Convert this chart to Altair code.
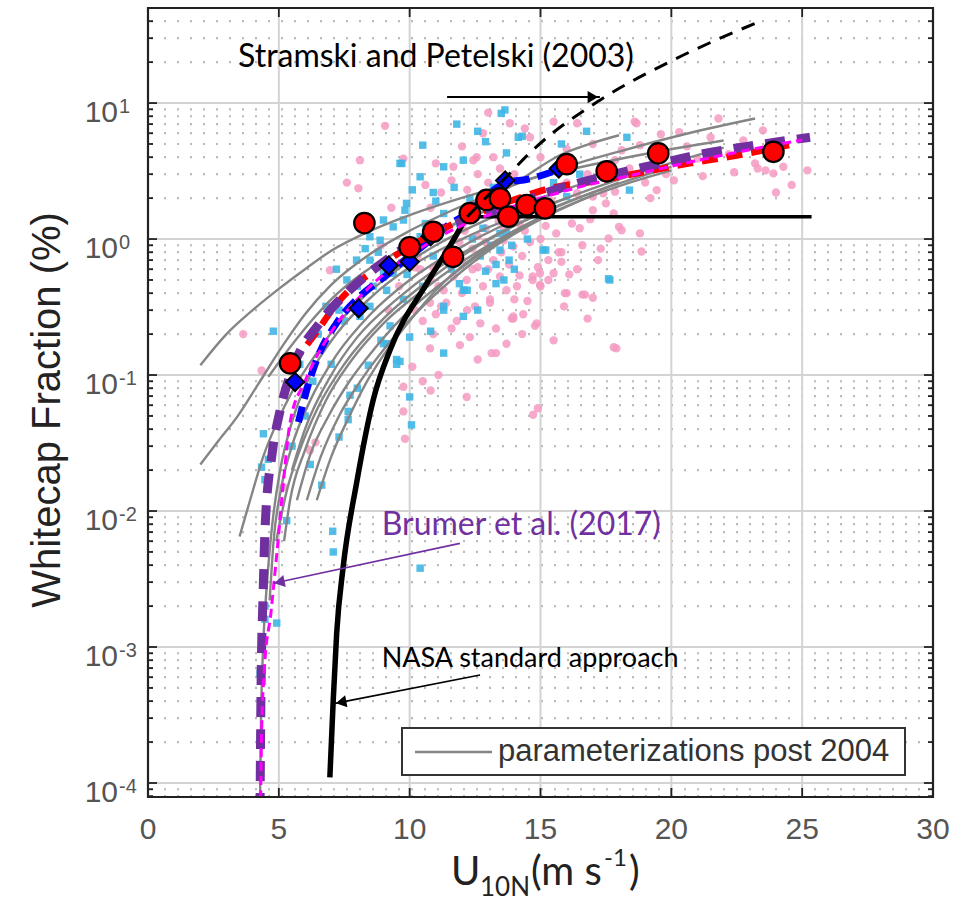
import altair as alt
import pandas as pd

PW, PH = 785, 789  # plot area in pixels

U_DOMAIN = [0, 30]
W_DOMAIN = [7.89e-5, 50.0]

# ---- observations -------------------------------------------------------
red_u = [5.43, 8.27, 10.0, 10.9, 11.65, 12.3, 12.94, 13.45, 13.77, 14.47, 15.17, 16.0, 17.53, 19.5, 23.9]
red_w = [0.122, 1.31, 0.87, 1.13, 0.74, 1.55, 1.94, 1.99, 1.46, 1.78, 1.68, 3.55, 3.15, 4.27, 4.38]

blue_u = [5.62, 8.05, 9.2, 10.0, 10.8, 13.65, 15.7]
blue_w = [0.089, 0.31, 0.64, 0.68, 1.05, 2.7, 3.3]

pink_u = [3.64, 4.34, 5.17, 6.19, 6.4, 6.95, 7.6, 8.04, 8.1, 9.06, 9.76, 9.82, 9.76, 9.76, 10.1,
          10.8, 10.5, 10.78, 10.9, 11.92, 13.13, 12.18, 14.72, 14.9, 17.9, 13.96, 14.79, 13.07, 12.5,
          16.0, 16.6, 17.0, 14.98, 11.4, 11.1, 13.3, 14.34, 14.98, 13.83, 12.8, 12.0, 12.56, 14.6,
          18.67, 21.8, 23.5, 22.75, 19.44, 17.85, 17.4, 17.0, 18.1, 17.6, 18.86, 15.93, 16.7, 13.9,
          15.5, 14.7, 24.6, 25.2, 23.9, 24.28, 23.3, 15.5, 16.4, 18.6, 18.8, 17.85, 18.1, 23.6,
          13.2, 13.6, 13.96, 13.45, 14.2, 14.7, 15.0, 13.07, 13.7, 11.67, 12.18, 11.3, 10.78, 11.2,
          12.7, 12.3, 13.96, 13.45, 13.2, 12.43, 12.6, 11.67, 11.0, 16.4, 17.0, 17.5, 17.8, 18.0,
          18.8, 15.9, 17.8, 14.85, 10.4, 10.8, 11.5, 12.0, 12.4, 14.3, 14.6, 15.3, 15.6, 16.2,
          16.6, 10.6, 11.2, 12.9, 13.4, 15.2, 14.4, 12.2, 13.3, 15.5, 16.4, 17.2, 19.2, 20.1,
          19.8, 21.2, 20.3, 21.0, 22.2, 23.2, 9.3, 10.2, 11.8, 12.6, 14.0, 15.8,
          10.2, 10.5, 11.0, 11.6, 12.0, 12.4, 12.8, 13.0, 13.5, 13.8, 14.1, 14.5, 14.9, 15.3,
          15.7, 16.1, 16.5, 16.9, 17.3, 15.0, 14.2, 13.6, 12.6, 11.9, 11.4, 10.9, 10.3, 9.6,
          9.2, 8.9, 14.8, 15.4, 16.0, 16.8, 14.0, 13.0, 12.2, 11.6, 10.8, 17.6, 18.4, 19.0,
          20.6, 21.5, 22.4, 24.0, 19.6, 17.0, 16.0, 15.0, 14.4, 13.0, 12.1, 12.9, 15.8, 14.3,
          13.7, 12.6, 11.1, 16.8]
pink_w = [0.2, 0.108, 0.015, 0.028, 0.032, 0.59, 2.6, 2.36, 3.8, 6.8, 3.9, 0.034, 0.054, 0.082, 0.115,
          0.077, 0.09, 0.157, 0.2, 0.166, 0.145, 0.069, 0.051, 0.057, 0.157, 0.26, 0.23, 0.36, 0.32,
          0.4, 0.39, 0.37, 0.46, 0.34, 0.45, 0.145, 0.28, 0.56, 7.1, 6.0, 4.8, 4.0, 5.6,
          7.1, 7.7, 6.3, 5.3, 2.29, 2.23, 2.17, 1.63, 1.16, 1.01, 0.81, 0.4, 0.39, 0.26,
          0.56, 0.53, 2.5, 3.2, 3.04, 3.4, 3.3, 7.3, 7.1, 7.3, 4.9, 3.8, 4.5, 3.2,
          0.7, 0.98, 0.88, 0.53, 0.54, 0.5, 0.45, 0.34, 0.42, 0.53, 0.5, 0.42, 0.34, 0.32,
          0.24, 0.19, 0.27, 3.3, 4.0, 3.8, 3.0, 3.4, 3.6, 2.17, 2.05, 1.83, 1.54, 1.23,
          1.1, 0.32, 0.16, 0.24, 0.6, 0.5, 0.65, 0.7, 0.85, 0.75, 0.95, 0.7, 1.1, 1.3,
          0.9, 2.5, 2.2, 1.2, 1.35, 1.25, 1.15, 0.3, 0.22, 0.18, 0.6, 0.7, 2.0, 2.7,
          3.0, 2.9, 6.1, 3.9, 4.2, 3.6, 1.7, 0.62, 0.25, 0.62, 0.36, 0.8,
          0.3, 0.25, 0.28, 0.22, 0.4, 0.6, 0.45, 0.6, 0.8, 0.65, 0.45, 0.35, 0.62, 0.5,
          0.8, 0.55, 1.2, 1.4, 0.85, 1.0, 1.3, 1.2, 1.05, 0.95, 0.8, 0.62, 0.75, 0.45,
          0.3, 0.9, 2.0, 1.9, 2.6, 3.0, 3.0, 2.6, 2.3, 2.7, 1.7, 2.8, 3.3, 2.6,
          4.8, 5.6, 3.1, 2.2, 5.9, 5.0, 4.6, 4.0, 6.5, 8.5, 1.15, 0.95, 0.68, 0.2,
          0.17, 0.13, 0.1, 0.26]

cyan_u = [4.41, 4.34, 4.47, 4.6, 6.64, 7.65, 7.65, 10.07, 7.06, 7.08, 10.4, 4.47, 4.47, 4.92, 4.28,
          4.79, 7.72, 8.42, 9.0, 9.5, 7.97, 11.3, 9.63, 10.0, 12.1, 17.65, 13.64, 13.5, 14.15,
          14.3, 12.6, 13.7, 10.5, 11.3, 9.7, 12.05, 13.2, 9.88, 9.0, 9.76, 11.3, 8.48, 8.48,
          9.0, 9.12, 8.48, 8.1, 9.25, 9.12, 9.5, 10.0, 13.45, 13.7, 12.05, 11.3, 12.05, 13.3,
          16.76, 18.3, 16.0, 18.4, 15.1, 17.6, 15.1, 9.63, 10.4, 9.82, 9.37, 8.87, 10.4, 11.9,
          13.45, 11.9, 12.2, 15.2, 11.3, 10.5, 9.76, 9.37, 6.0, 5.5, 6.3, 7.0, 7.5, 8.0, 6.5,
          5.8, 13.8, 14.0, 13.6, 13.9, 10.9, 8.8, 7.3,
          12.4, 12.8, 13.1, 13.3, 12.7, 13.9, 14.2, 12.3, 11.7, 11.0, 10.6, 10.2, 9.9, 8.6,
          8.3, 7.6, 7.2, 6.8, 10.9, 11.6, 12.9, 14.5, 15.5, 16.5, 15.8, 12.9, 11.8, 10.1,
          8.9, 8.0, 7.3, 6.2, 5.3, 10.8, 12.6]
cyan_w = [0.037, 0.021, 0.017, 0.024, 0.0155, 0.054, 0.047, 0.043, 0.0071, 0.005, 0.0038, 0.002,
          0.0016, 0.0015, 0.00064, 0.21, 0.071, 0.118, 0.17, 0.13, 0.7, 0.145, 0.126, 0.19, 0.42,
          0.5, 8.9, 8.4, 5.6, 5.7, 6.2, 4.3, 4.9, 3.4, 3.6, 3.8, 2.4, 1.83, 1.38, 1.38, 1.54,
          1.04, 0.7, 0.56, 0.42, 0.32, 0.27, 0.23, 0.17, 0.12, 0.069, 0.83, 1.1, 0.42, 0.32,
          0.27, 0.47, 6.2, 5.6, 2.05, 2.29, 0.83, 0.51, 1.55, 3.6, 2.87, 1.63, 1.23, 0.98, 1.04,
          1.3, 1.1, 0.47, 0.42, 0.83, 0.3, 0.45, 0.36, 0.56, 0.05, 0.03, 0.09, 0.12, 0.25, 0.45,
          0.2, 0.12, 0.7, 0.6, 0.5, 0.9, 2.2, 0.8, 0.3,
          1.0, 1.2, 0.9, 0.65, 0.75, 1.5, 1.8, 2.0, 2.4, 1.9, 1.3, 0.85, 0.55, 0.45,
          0.85, 0.5, 0.6, 0.32, 0.75, 0.6, 0.58, 1.0, 2.6, 3.0, 5.0, 5.2, 7.0, 2.3,
          0.18, 0.08, 0.035, 0.022, 0.0085, 0.21, 0.3]

# ---- parameterizations --------------------------------------------------
grey_curves = [
    [(2.0, 0.118), (3.0, 0.2), (4.0, 0.3), (5.0, 0.43), (6.0, 0.6), (7.0, 0.82), (8.5, 1.15),
     (10, 1.5), (12.5, 2.15), (15, 2.9), (17.5, 3.7), (19.5, 4.4), (22, 5.3)],
    [(2.0, 0.022), (2.7, 0.033), (3.4, 0.049), (4.2, 0.085), (5.2, 0.17), (6.0, 0.28), (7.0, 0.46),
     (8.5, 0.78), (10, 1.15), (12, 1.75), (14, 2.5), (16, 3.4), (18, 4.4), (20.5, 5.9), (23.2, 7.7)],
    [(3.5, 0.0065), (3.9, 0.012), (4.4, 0.025), (5.0, 0.048), (5.5, 0.075), (6.5, 0.15), (7.5, 0.27),
     (9, 0.5), (11, 0.9), (13, 1.4), (15, 2.0), (17, 2.7)],
    [(4.6, 0.097), (5.2, 0.14), (6.0, 0.22), (7.0, 0.36), (8.2, 0.56), (9.5, 0.8), (11, 1.12),
     (12.5, 1.5), (14, 1.9)],
    [(4.28, 7.0e-5), (4.32, 3e-4), (4.4, 0.001), (4.55, 0.003), (4.75, 0.008), (5.05, 0.02),
     (5.5, 0.045), (6.2, 0.1), (7.2, 0.2), (8.5, 0.37), (10, 0.62), (12, 1.0), (14, 1.45), (16, 2.0)],
    [(4.65, 0.0022), (4.8, 0.006), (5.1, 0.015), (5.5, 0.03), (6.2, 0.065), (7.2, 0.14), (8.5, 0.28),
     (10, 0.5), (12, 0.88), (14, 1.38), (16, 2.0), (18.5, 2.95), (22, 4.7)],
    [(4.9, 0.006), (5.3, 0.014), (5.8, 0.028), (6.5, 0.058), (7.5, 0.12), (9, 0.26), (10.5, 0.46),
     (12, 0.75), (14, 1.25), (16, 1.85), (18, 2.6)],
    [(5.2, 0.006), (5.43, 0.012), (6.0, 0.028), (6.8, 0.065), (7.8, 0.13), (9, 0.24), (10.5, 0.42),
     (12, 0.68), (14, 1.15), (16, 1.75), (18, 2.45), (20, 3.2)],
    [(5.69, 0.012), (6.2, 0.026), (6.9, 0.05), (7.7, 0.09), (8.7, 0.16), (10, 0.3), (11.5, 0.52),
     (13, 0.85), (15, 1.4), (17, 2.1)],
    [(6.07, 0.012), (6.6, 0.025), (7.3, 0.05), (8.2, 0.095), (9.3, 0.18), (10.5, 0.32), (12, 0.58),
     (13.5, 0.95), (15, 1.4)],
    [(6.45, 0.012), (7.0, 0.025), (7.7, 0.05), (8.3, 0.085), (9.0, 0.14), (10, 0.25), (11, 0.42),
     (12.5, 0.75), (14, 1.15), (15.5, 1.6)],
    [(9.5, 0.6), (10.5, 0.85), (11.5, 1.2), (12.5, 1.65), (13.5, 2.2), (14.5, 2.95), (15.7, 4.1),
     (16.8, 4.95), (18, 5.8)],
    [(5.5, 0.02), (6.0, 0.04), (7.0, 0.1), (8.0, 0.19), (9.5, 0.36), (11, 0.6), (13, 1.0),
     (15, 1.55), (17, 2.2), (20, 3.4)],
]

nasa_u = [6.95, 7.08, 7.21, 7.46, 7.97, 8.61, 9.25, 10.65, 11.67, 12.18]
nasa_w = [1.1e-4, 4.1e-4, 0.00126, 0.0039, 0.016, 0.066, 0.153, 0.47, 0.98, 1.46]
nasa_cap_u = [12.18, 25.36]
nasa_cap_w = [1.46, 1.46]

stramski_u = [12.2, 13.7, 14.7, 17.27, 20.07, 23.51]
stramski_w = [1.46, 2.87, 4.5, 10.5, 20.7, 40.8]

blue_fit_u = [5.75, 6.0, 6.45, 7.2, 8.1, 9.0, 9.6, 10.6, 11.5, 12.2, 12.9, 13.7, 14.5, 15.8]
blue_fit_w = [0.045, 0.07, 0.13, 0.24, 0.38, 0.52, 0.65, 0.92, 1.28, 1.54, 2.05, 2.6, 2.75, 3.3]

red_fit_u = [5.5, 6.3, 7.3, 8.7, 10, 11, 12, 13, 14, 15.6, 17, 18.9, 20.7, 22.6, 24.5]
red_fit_w = [0.12, 0.19, 0.35, 0.6, 0.88, 1.12, 1.38, 1.65, 1.95, 2.42, 2.65, 3.1, 3.6, 4.15, 4.9]

brumer_u = [4.28, 4.32, 4.4, 4.48, 4.75, 5.05, 5.55, 6.55, 7.7, 9.1, 10.6, 12, 14, 15.7, 17.5,
            19.3, 21.1, 22.9, 25.3]
brumer_w = [6e-5, 5e-4, 0.0025, 0.008, 0.027, 0.055, 0.115, 0.24, 0.42, 0.7, 1.05, 1.35, 1.8,
            2.35, 2.9, 3.5, 4.2, 4.8, 5.6]

magenta_u = [4.3, 4.34, 4.45, 4.7, 4.85, 4.95, 5.17, 5.43, 6.0, 6.95, 8.23, 9.25, 10.14, 11.3, 13,
             15, 16.8, 18.5, 20.2, 22.9, 25.0]
magenta_w = [6e-5, 2.3e-4, 7e-4, 0.0018, 0.0035, 0.0055, 0.016, 0.045, 0.09, 0.2, 0.4, 0.6, 0.79,
             1.08, 1.5, 2.0, 2.5, 2.95, 3.5, 4.5, 5.35]

# ---- axis furniture -------------------------------------------------------
x_ticks = [0, 5, 10, 15, 20, 25, 30]
x_inner = [5, 10, 15, 20, 25]
decades = [-4, -3, -2, -1, 0, 1]
minor_vals = [k * 10.0 ** d for d in range(-5, 2) for k in range(2, 10)
              if W_DOMAIN[0] <= k * 10.0 ** d <= W_DOMAIN[1]]
major_vals = [10.0 ** d for d in decades]

xs = alt.Scale(domain=U_DOMAIN, nice=False, zero=False)
ys = alt.Scale(type="log", domain=W_DOMAIN, nice=False)
X = alt.X("u:Q", scale=xs, axis=None)
Y = alt.Y("w:Q", scale=ys, axis=None)


def frame(us, ws):
    return pd.DataFrame({"u": us, "w": ws})


grey_df = pd.DataFrame(
    [{"u": u, "w": w, "curve": i} for i, c in enumerate(grey_curves) for (u, w) in c]
)

layers = []

# grid
layers.append(
    alt.Chart(pd.DataFrame({"w": minor_vals})).mark_rule(
        color="#b9b9b9", strokeWidth=2.2, strokeDash=[2, 11]
    ).encode(y=Y)
)
layers.append(
    alt.Chart(pd.DataFrame({"w": major_vals})).mark_rule(color="#d3d3d3", strokeWidth=2).encode(y=Y)
)
layers.append(
    alt.Chart(pd.DataFrame({"u": x_inner})).mark_rule(color="#d3d3d3", strokeWidth=2).encode(x=X)
)

# scatter
layers.append(
    alt.Chart(frame(pink_u, pink_w)).mark_circle(size=70, color="#f49ac2", opacity=0.85, clip=True)
    .encode(x=X, y=Y)
)
layers.append(
    alt.Chart(frame(cyan_u, cyan_w)).mark_square(size=55, color="#3fb6e4", opacity=0.9, clip=True)
    .encode(x=X, y=Y)
)

# parameterizations
layers.append(
    alt.Chart(grey_df).mark_line(color="#858585", strokeWidth=2.4, interpolate="monotone", clip=True)
    .encode(x=X, y=Y, detail="curve:N")
)

# NASA standard approach
layers.append(
    alt.Chart(frame(nasa_u, nasa_w)).mark_line(color="black", strokeWidth=5.5, interpolate="monotone",
                                                clip=True).encode(x=X, y=Y)
)
layers.append(
    alt.Chart(frame(nasa_cap_u, nasa_cap_w)).mark_line(color="black", strokeWidth=3.5, clip=True)
    .encode(x=X, y=Y)
)

# fits
layers.append(
    alt.Chart(frame(blue_fit_u, blue_fit_w)).mark_line(color="#0000ff", strokeWidth=7, strokeDash=[16, 8],
                                                        interpolate="monotone", clip=True).encode(x=X, y=Y)
)
layers.append(
    alt.Chart(frame(red_fit_u, red_fit_w)).mark_line(color="#ff0000", strokeWidth=6.5, strokeDash=[16, 9],
                                                      interpolate="monotone", clip=True).encode(x=X, y=Y)
)
layers.append(
    alt.Chart(frame(brumer_u, brumer_w)).mark_line(color="#7030a0", strokeWidth=9, strokeDash=[20, 12],
                                                    interpolate="monotone", clip=True).encode(x=X, y=Y)
)
layers.append(
    alt.Chart(frame(magenta_u, magenta_w)).mark_line(color="#ff00ff", strokeWidth=3, strokeDash=[9, 5],
                                                      interpolate="monotone", clip=True).encode(x=X, y=Y)
)

# bin-averaged markers
layers.append(
    alt.Chart(frame(blue_u, blue_w)).mark_point(shape="diamond", size=330, filled=True, color="#0000ff",
                                                 stroke="black", strokeWidth=2, opacity=1)
    .encode(x=X, y=Y)
)
layers.append(
    alt.Chart(frame(red_u, red_w)).mark_point(shape="circle", size=420, filled=True, color="#ff0000",
                                               stroke="black", strokeWidth=2.2, opacity=1)
    .encode(x=X, y=Y)
)

# Stramski and Petelski (2003)
layers.append(
    alt.Chart(frame(stramski_u, stramski_w)).mark_line(color="black", strokeWidth=3, strokeDash=[14, 10],
                                                        interpolate="monotone", clip=True).encode(x=X, y=Y)
)

# ---- annotations ----------------------------------------------------------
notes = pd.DataFrame({
    "u": [3.44, 8.93, 8.93],
    "w": [18.4, 0.00667, 7.13e-4],
    "label": ["Stramski and Petelski (2003)", "Brumer et al. (2017)", "NASA standard approach"],
    "col": ["black", "#7030a0", "black"],
    "fs": [32, 32, 27],
})
for i in range(len(notes)):
    r = notes.iloc[i]
    layers.append(
        alt.Chart(notes.iloc[[i]]).mark_text(font="Lato", fontSize=int(r["fs"]), align="left",
                                             baseline="alphabetic", color=r["col"])
        .encode(x=X, y=Y, text="label:N")
    )

arrow_u = [11.43, 17.27, 11.92, 4.79, 12.69, 7.15]
arrow_w = [11.07, 11.07, 0.00578, 0.00294, 6.22e-4, 3.85e-4]
arrow_id = ["s", "s", "b", "b", "n", "n"]
arrows = pd.DataFrame({"u": arrow_u, "w": arrow_w, "id": arrow_id})
layers.append(
    alt.Chart(arrows[arrows.id == "s"]).mark_line(color="black", strokeWidth=2).encode(x=X, y=Y)
)
layers.append(
    alt.Chart(arrows[arrows.id == "b"]).mark_line(color="#7030a0", strokeWidth=1.6).encode(x=X, y=Y)
)
layers.append(
    alt.Chart(arrows[arrows.id == "n"]).mark_line(color="black", strokeWidth=1.6).encode(x=X, y=Y)
)
heads = pd.DataFrame({
    "u": [17.27, 4.79, 7.15],
    "w": [11.07, 0.00294, 3.85e-4],
    "ang": [90, 258, 259],
    "col": ["black", "#7030a0", "black"],
    "dx": [-7, 6, 6],
    "dy": [0, -1.3, -1.2],
})
for i in range(len(heads)):
    r = heads.iloc[i]
    layers.append(
        alt.Chart(heads.iloc[[i]]).mark_point(shape="triangle-up", size=150, filled=True, opacity=1,
                                              color=r["col"], angle=float(r["ang"]),
                                              xOffset=float(r["dx"]), yOffset=float(r["dy"]))
        .encode(x=X, y=Y)
    )

# x tick labels
layers.append(
    alt.Chart(pd.DataFrame({"u": x_ticks})).mark_text(
        font="Liberation Sans", fontSize=30, color="#555555", align="center", baseline="middle")
    .encode(x=X, y=alt.value(PH + 33), text=alt.Text("u:Q", format="d"))
)

# y tick labels: 10 with a raised exponent
ylab = pd.DataFrame({"w": major_vals, "exp": [str(d) for d in decades]})
layers.append(
    alt.Chart(ylab).mark_text(font="Liberation Sans", fontSize=30, color="#555555", align="right",
                              baseline="middle", dy=10).encode(x=alt.value(-30), y=Y, text=alt.value("10"))
)
layers.append(
    alt.Chart(ylab).mark_text(font="Liberation Sans", fontSize=20, color="#555555", align="left",
                              baseline="middle", dy=4).encode(x=alt.value(-29), y=Y, text="exp:N")
)

# inward ticks on all four sides
tk_major = pd.DataFrame({"w": major_vals})
tk_minor = pd.DataFrame({"w": minor_vals})
for x0, x1, df in [(0, 9, tk_major), (0, 5, tk_minor), (PW - 9, PW, tk_major), (PW - 5, PW, tk_minor)]:
    layers.append(
        alt.Chart(df).mark_rule(color="#222222", strokeWidth=1.8).encode(
            y=Y, x=alt.value(x0), x2=alt.value(x1))
    )
tk_x = pd.DataFrame({"u": x_inner})
for y0, y1 in [(PH - 9, PH), (0, 9)]:
    layers.append(
        alt.Chart(tk_x).mark_rule(color="#222222", strokeWidth=1.8).encode(
            x=X, y=alt.value(y0), y2=alt.value(y1))
    )

# plot frame
layers.append(
    alt.Chart(pd.DataFrame({"u": [0]})).mark_rect(filled=False, stroke="#222222", strokeWidth=2.2)
    .encode(x=alt.value(0), x2=alt.value(PW), y=alt.value(0), y2=alt.value(PH))
)

# legend
layers.append(
    alt.Chart(pd.DataFrame({"u": [0]})).mark_rect(fill="white", stroke="#333333", strokeWidth=2)
    .encode(x=alt.value(254), x2=alt.value(757), y=alt.value(720), y2=alt.value(767))
)
layers.append(
    alt.Chart(pd.DataFrame({"u": [0]})).mark_rule(color="#858585", strokeWidth=2.4)
    .encode(x=alt.value(267), x2=alt.value(344), y=alt.value(744))
)
layers.append(
    alt.Chart(pd.DataFrame({"t": ["parameterizations post 2004"]})).mark_text(
        font="Liberation Sans", fontSize=31, color="#333333", align="left", baseline="middle")
    .encode(x=alt.value(350), y=alt.value(744), text="t:N")
)

# axis titles
layers.append(
    alt.Chart(pd.DataFrame({"t": ["Whitecap Fraction (%)"]})).mark_text(
        font="Liberation Sans", fontSize=40, color="#222222", angle=270, align="center",
        baseline="alphabetic")
    .encode(x=alt.value(-88), y=alt.value(402), text="t:N")
)
xt = pd.DataFrame({
    "t": ["U", "10N", "(m s", "-1", ")"],
    "px": [303, 332, 383, 456, 481],
    "py": [877, 888, 877, 858, 877],
    "fs": [40, 26, 40, 24, 40],
})
for i in range(len(xt)):
    r = xt.iloc[i]
    layers.append(
        alt.Chart(xt.iloc[[i]]).mark_text(font="Lato", fontSize=int(r["fs"]), color="#222222",
                                          align="left", baseline="alphabetic")
        .encode(x=alt.value(int(r["px"])), y=alt.value(int(r["py"])), text="t:N")
    )

chart = alt.layer(*layers).properties(
    width=PW, height=PH,
    autosize=alt.AutoSizeParams(type="none"),
    padding={"left": 148, "top": 8, "right": 41, "bottom": 107},
).configure_view(strokeWidth=0).configure(background="white")

chart.save("out.html", embed_options={"renderer": "svg", "actions": False})
